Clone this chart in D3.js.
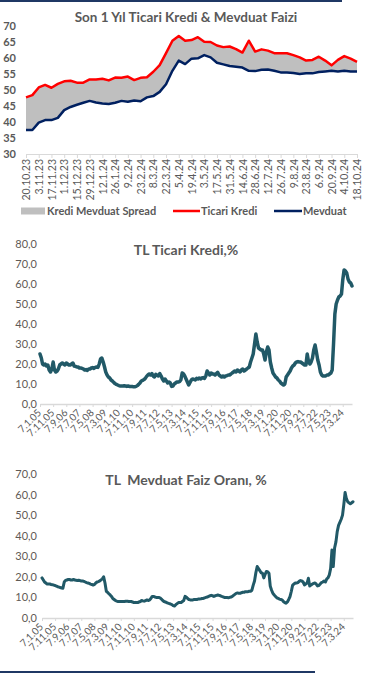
<!DOCTYPE html>
<html><head><meta charset="utf-8">
<script src="https://cdn.jsdelivr.net/npm/d3@7"></script>
<style>body{margin:0;background:#fff}svg{display:block}</style>
</head><body>
<svg id="c" width="368" height="674"></svg>
<script>
// ---------- Chart 1 data (weekly) ----------
const weeks = ["20.10.23","27.10.23","3.11.23","10.11.23","17.11.23","24.11.23","1.12.23","8.12.23","15.12.23","22.12.23","29.12.23","5.1.24","12.1.24","19.1.24","26.1.24","2.2.24","9.2.24","16.2.24","23.2.24","1.3.24","8.3.24","15.3.24","22.3.24","29.3.24","5.4.24","12.4.24","19.4.24","26.4.24","3.5.24","10.5.24","17.5.24","24.5.24","31.5.24","7.6.24","14.6.24","21.6.24","28.6.24","5.7.24","12.7.24","19.7.24","26.7.24","2.8.24","9.8.24","16.8.24","23.8.24","30.8.24","6.9.24","13.9.24","20.9.24","27.9.24","4.10.24","11.10.24","18.10.24"];
const ticariKredi = [47.7,48.4,50.8,51.6,50.7,51.9,52.7,52.9,52.3,52.3,53.3,53.3,53.5,53.0,53.9,53.8,54.2,53.1,53.8,54.0,55.7,57.8,61.5,65.4,66.9,65.4,65.6,66.5,65.1,65.0,63.9,63.4,63.6,62.8,61.7,65.4,62.0,62.7,62.3,61.5,61.5,61.5,60.9,60.2,59.2,59.4,60.4,59.2,57.7,59.4,60.6,59.8,58.8];
const mevduat = [37.5,37.5,39.8,40.6,40.6,41.3,43.7,44.7,45.4,46.0,46.6,46.1,45.8,45.6,46.0,46.6,46.3,46.7,46.5,47.7,48.1,49.4,51.8,56.0,59.2,58.1,59.8,59.9,60.9,60.2,58.5,58.0,57.5,57.3,57.0,56.0,55.9,56.3,56.4,56.0,55.5,55.5,55.3,55.0,55.2,55.2,55.6,55.8,56.0,55.8,56.0,55.8,55.8];
const yTicks1 = [30,35,40,45,50,55,60,65,70];
const legend1 = ["Kredi Mevduat Spread","Ticari Kredi","Mevduat"];

// ---------- Chart 2 & 3 data (monthly, Jan 2005 - Oct 2024) ----------
const longStart = "7.1.05";
const krediMonthly = [
 25,23,20,19.5,20,19,19.5,17,16,17.5,21,17,
 16,16.5,17.5,19.5,20,20.5,20,19.5,20.5,20,19.5,19.5,
 20,20.5,19,18.8,18.5,18.5,18,18,17.8,17.5,17,17.2,
 16.8,17.5,17.5,18,18.2,17.8,18.3,18.5,18.3,20,22.5,23,
 21,18.5,16,14.5,13.5,13,12,11.5,10.8,10.2,9.8,9.5,
 9.2,9,9,9,9.1,9,8.8,9,8.8,8.7,8.8,8.6,
 8.6,8.8,9.2,9.8,10.5,11.5,11.8,12.2,12.8,13.8,14.5,15,
 14.5,15.2,14,13.5,14.8,14.5,14,15.2,14,12.5,11.5,12.5,
 11.5,10.5,11,10.5,8.8,9,10,10.5,11,11,11.2,12,
 15.5,15,14,12.5,11,9.5,10.8,12,12.5,12.3,12,12.8,
 12.5,13,12.5,13,13.2,12.8,14,16.5,15.5,14.5,15.5,15,
 15,14.5,15.2,15.8,14.5,14,13.5,14,13.5,14,14.2,14.5,
 14.5,15,15.5,16,16.5,16,17,16.5,16,17,17.5,16.5,
 17,17.5,18,18.5,21,23,25,30,35,31,28,27.5,
 27,27,25,22,26,28.5,27,21,18,15.5,14.5,13.5,
 13,12,11.5,10.5,10,9.5,10,13.5,14.5,15.5,16.5,18,
 19,19.5,20.5,21,21.2,21,21,20.5,20,19.5,19.5,25,
 21,20,21,23,27,29.5,26,22,19.5,16,14.5,14,
 14,14,14.5,14.5,15,15.5,17,30,45,50,52,53.5,
 54,55,62,67,66.5,65.5,62.5,61,60.5,59];
const mevduatMonthly = [
 19.5,18.5,17.5,17,16.5,16.5,16.5,16.3,16.2,16,15.8,15.5,
 15.2,15,14.8,14.6,14.5,17.5,18.3,18.5,18.7,18.7,18.5,18.5,
 18.7,18.5,18.3,18.2,18.3,18.2,18,18,17.8,17.5,17.2,17,
 16.8,16.5,16.3,16,16.3,17,17.5,17.7,18,18.5,19,20,
 17,13,12.5,11.8,11.2,10.5,9.5,9,8.5,8.2,8,8,
 8,8,8,8,8.2,8.2,8,8,8,7.8,7.5,7.6,
 7.5,7.5,7.8,8,8.5,8.3,8.2,8.5,8.8,8.5,8.8,9.5,
 10.5,10.5,10.2,10,10,10,9.8,9.2,8.5,8,7.8,7.5,
 7.2,7,6.8,6.5,6,5.8,6.5,7,7.5,7.5,7.5,8,
 8.5,10.5,10.2,9.5,9,8.8,8.8,8.8,9,9,9,9.2,
 9.2,9.3,9.5,9.5,9.8,10,10.2,10.5,10.8,11,10.8,10.5,
 10.8,11,11.2,11,10.8,10.5,10.3,10,10,10,9.8,10,
 10.2,10.5,11,11.5,12,12.2,12,12,12.3,12.5,12.5,12.8,
 12.8,12.8,13,13,13.5,16,18,22,25,24,23,22,
 21.8,19.5,21,22.6,22.5,21.8,15.5,13.5,12,11.2,10.5,9.8,
 9.5,9.2,9,8.8,8,7.5,7.2,7.8,9,10.4,13,16,
 16.5,17,17,17.2,17.8,18.2,18,17.5,16.1,16.5,17,19.3,
 15.6,16,16.5,16.8,17,16.5,15.6,15.8,16.5,17.2,17.5,18,
 17.5,19,19.5,21,24,33,25,34,37,42,45,46.5,
 48,50,55,61,58,56.5,56,55.5,56,56.5];
const longTicks = ["7.1.05","7.11.05","7.9.06","7.7.07","7.5.08","7.3.09","7.1.10","7.11.10","7.9.11","7.7.12","7.5.13","7.3.14","7.1.15","7.11.15","7.9.16","7.7.17","7.5.18","7.3.19","7.1.20","7.11.20","7.9.21","7.7.22","7.5.23","7.3.24"];
const yTicks2 = [0,10,20,30,40,50,60,70,80];
const yTicks3 = [0,10,20,30,40,50,60,70];

const FONT = "Lato, 'Open Sans', sans-serif";
const TXT = "#595959";
const svg = d3.select("#c");

// border lines
svg.append("rect").attr("x",0).attr("y",0).attr("width",342).attr("height",2).attr("fill","#1F3864");
svg.append("rect").attr("x",0).attr("y",671).attr("width",315).attr("height",2).attr("fill","#1F3864");

// ---------- Chart 1 ----------
{
  const x = d3.scalePoint().domain(weeks).range([26, 357]);
  const y = d3.scaleLinear().domain([30, 70]).range([154, 26]);
  svg.append("text").attr("x",186).attr("y",22).attr("text-anchor","middle")
    .attr("font-family",FONT).attr("font-weight","bold").attr("font-size",13.5).attr("fill",TXT)
    .text("Son 1 Yıl Ticari Kredi & Mevduat Faizi");
  const yg = svg.append("g").attr("transform","translate(16,0)")
    .call(d3.axisLeft(y).tickValues(yTicks1).tickSize(0).tickPadding(0));
  yg.select(".domain").remove();
  yg.selectAll("text").attr("font-family",FONT).attr("font-weight","bold").attr("font-size",11).attr("fill",TXT);

  const data = weeks.map((w,i)=>({w, k:ticariKredi[i], m:mevduat[i]}));
  svg.append("path").datum(data).attr("fill","#BFBFBF")
    .attr("d", d3.area().x(d=>x(d.w)).y0(d=>y(d.m)).y1(d=>y(d.k)));
  const xg = svg.append("g").attr("transform","translate(0,154)")
    .call(d3.axisBottom(x).tickValues(weeks.filter((d,i)=>i%2===0)).tickSize(4).tickSizeOuter(0));
  xg.select(".domain").attr("stroke","#D9D9D9");
  xg.selectAll(".tick line").attr("stroke","#D9D9D9");
  xg.selectAll("text").attr("font-family",FONT).attr("font-size",10.5).attr("fill",TXT)
    .attr("text-anchor","end").attr("transform","rotate(-90)").attr("x",-5).attr("y",0).attr("dy","0.35em");
  svg.append("path").datum(data).attr("fill","none").attr("stroke","#FF0000").attr("stroke-width",2.5)
    .attr("stroke-linejoin","round").attr("d", d3.line().x(d=>x(d.w)).y(d=>y(d.k)));
  svg.append("path").datum(data).attr("fill","none").attr("stroke","#002060").attr("stroke-width",2.5)
    .attr("stroke-linejoin","round").attr("d", d3.line().x(d=>x(d.w)).y(d=>y(d.m)));

  // legend
  const lg = svg.append("g").attr("font-family",FONT).attr("font-weight","bold").attr("font-size",11).attr("fill",TXT);
  lg.append("rect").attr("x",21).attr("y",207.5).attr("width",24).attr("height",7).attr("fill","#BFBFBF");
  lg.append("text").attr("x",47).attr("y",215).text(legend1[0]);
  lg.append("line").attr("x1",173).attr("x2",200).attr("y1",211).attr("y2",211).attr("stroke","#FF0000").attr("stroke-width",2.5);
  lg.append("text").attr("x",201).attr("y",215).text(legend1[1]);
  lg.append("line").attr("x1",274).attr("x2",302).attr("y1",211).attr("y2",211).attr("stroke","#002060").attr("stroke-width",2.5);
  lg.append("text").attr("x",303).attr("y",215).text(legend1[2]);
}

// ---------- long charts ----------
function longChart(values, yTicks, yMax, top, bottom, x0, x1, title, titleY, sw) {
  const parse = d3.timeParse("%d.%m.%y");
  const start = parse(longStart);
  const dates = values.map((v,i)=>d3.timeMonth.offset(start, i));
  const x = d3.scaleTime().domain([start, dates[dates.length-1]]).range([x0, x1]);
  const y = d3.scaleLinear().domain([0, yMax]).range([bottom, top]);
  svg.append("text").attr("x",186).attr("y",titleY).attr("text-anchor","middle")
    .attr("font-family",FONT).attr("font-weight","bold").attr("font-size",14).attr("fill",TXT)
    .attr("xml:space","preserve").style("white-space","pre").text(title);
  const yg = svg.append("g").attr("transform","translate(37,0)")
    .call(d3.axisLeft(y).tickValues(yTicks).tickSize(0).tickPadding(0).tickFormat(d=>d3.format(".1f")(d).replace(".",",")));
  yg.select(".domain").remove();
  yg.selectAll("text").attr("font-family",FONT).attr("font-size",11).attr("fill","#5f5a55");
  const tickDates = longTicks.map(parse);
  const xg = svg.append("g").attr("transform",`translate(0,${bottom})`)
    .call(d3.axisBottom(x).tickValues(tickDates).tickFormat((d,i)=>longTicks[i]).tickSize(3).tickSizeOuter(0));
  xg.select(".domain").attr("stroke","#D9D9D9").attr("stroke-width",1.5);
  xg.selectAll(".tick line").attr("stroke","#D9D9D9");
  xg.selectAll("text").attr("font-family",FONT).attr("font-size",10).attr("fill",TXT)
    .attr("text-anchor","end").attr("x",0).attr("y",0).attr("dy","0.35em")
    .attr("transform","translate(-1,7) rotate(-45)");
  svg.append("path").datum(values).attr("fill","none").attr("stroke","#215967").attr("stroke-width",sw)
    .attr("stroke-linejoin","round").attr("stroke-linecap","round")
    .attr("d", d3.line().x((d,i)=>x(dates[i])).y(d=>y(d)));
}
longChart(krediMonthly, yTicks2, 80, 244, 404, 40, 352, "TL Ticari Kredi,%", 255, 3.5);
longChart(mevduatMonthly, yTicks3, 70, 474, 618, 42, 353, "TL  Mevduat Faiz Oranı, %", 485, 3);
</script>
</body></html>
